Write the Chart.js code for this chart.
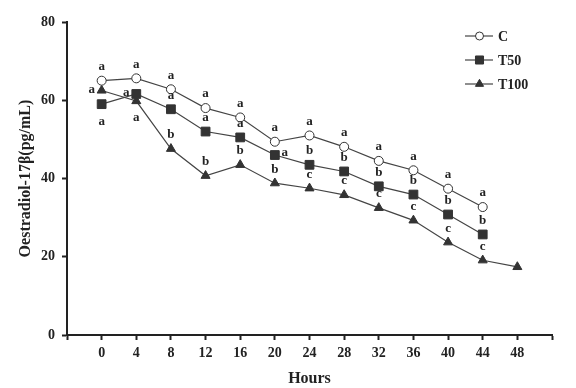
<!DOCTYPE html>
<html>
<head>
<meta charset="utf-8">
<script src="https://cdn.jsdelivr.net/npm/chart.js@4/dist/chart.umd.min.js"></script>
<style>
    html, body { margin: 0; padding: 0; background: #fff; }
    #wrap { width: 576px; height: 388px; position: relative; }
</style>
</head>
<body>
<div id="wrap"><canvas id="chart-oestradiol"></canvas></div>
<script>
const hours = [0, 4, 8, 12, 16, 20, 24, 28, 32, 36, 40, 44, 48];
const yTicks = [0, 20, 40, 60, 80];

const cValues = [65.0, 65.6, 62.8, 58.0, 55.6, 49.4, 51.0, 48.1, 44.5, 42.1, 37.4, 32.7];
const t50Values = [59.0, 61.6, 57.7, 52.0, 50.5, 46.0, 43.5, 41.8, 38.0, 35.9, 30.8, 25.7];
const t100Values = [62.5, 59.8, 47.6, 40.7, 43.5, 38.8, 37.5, 35.8, 32.5, 29.3, 23.7, 19.1, 17.4];

const cLetters = ["a", "a", "a", "a", "a", "a", "a", "a", "a", "a", "a", "a"];
const t50Letters = ["a", "a", "a", "a", "a", "a", "b", "b", "b", "b", "b", "b"];
const t100Letters = ["a", "a", "b", "b", "b", "b", "c", "c", "c", "c", "c", "c", ""];

// where each letter sits relative to its point
const cPlace = cLetters.map(() => "above");
const t50Place = ["below", "left", "above", "above", "above", "right", "above", "above", "above", "above", "above", "above"];
const t100Place = ["left", "below", "above", "above", "above", "above", "above", "above", "above", "above", "above", "above", "above"];

const serif = "'Liberation Serif', 'Times New Roman', serif";
const ink = "#222";
const lineColor = "#444";

const toPoints = (values) => values.map((v, i) => ({ x: hours[i], y: v }));

const letterPlugin = {
    id: "letters",
    afterDatasetsDraw(chart) {
        const ctx = chart.ctx;
        ctx.save();
        ctx.font = "bold 13px " + serif;
        ctx.fillStyle = ink;
        ctx.textAlign = "center";
        ctx.textBaseline = "middle";
        chart.data.datasets.forEach((ds, di) => {
            const meta = chart.getDatasetMeta(di);
            meta.data.forEach((pt, i) => {
                const letter = ds.letters[i];
                if (!letter) return;
                let x = pt.x, y = pt.y;
                const place = ds.places[i];
                if (place === "above") y -= 14;
                else if (place === "below") y += 17;
                else if (place === "left") { x -= 10; y -= 1; }
                else if (place === "right") { x += 10; y -= 2; }
                ctx.fillText(letter, x, y);
            });
        });
        ctx.restore();
    },
};

const legendPlugin = {
    id: "sideLegend",
    afterDraw(chart) {
        const ctx = chart.ctx;
        ctx.save();
        chart.data.datasets.forEach((ds, i) => {
            const y = 36 + i * 24;
            ctx.strokeStyle = lineColor;
            ctx.lineWidth = 1.2;
            ctx.beginPath();
            ctx.moveTo(465, y);
            ctx.lineTo(493, y);
            ctx.stroke();
            ctx.fillStyle = ds.pointBackgroundColor;
            ctx.strokeStyle = ds.pointBorderColor;
            ctx.lineWidth = 1;
            Chart.helpers.drawPoint(ctx, {
                pointStyle: ds.pointStyle,
                radius: ds.pointRadius - 0.5,
                borderWidth: 1,
            }, 479.5, y);
            ctx.font = "bold 14px " + serif;
            ctx.fillStyle = ink;
            ctx.textAlign = "left";
            ctx.textBaseline = "middle";
            ctx.fillText(ds.label, 498, y + 1);
        });
        ctx.restore();
    },
};

const makeSet = (label, values, style, radius, fill, letters, places) => ({
    label: label,
    data: toPoints(values),
    borderColor: lineColor,
    borderWidth: 1.2,
    pointStyle: style,
    pointRadius: radius,
    pointHoverRadius: radius,
    pointBackgroundColor: fill,
    pointBorderColor: "#333",
    pointBorderWidth: 1,
    tension: 0,
    letters: letters,
    places: places,
});

const chart = new Chart(document.getElementById("chart-oestradiol"), {
    type: "line",
    data: {
        datasets: [
            makeSet("C", cValues, "circle", 4.5, "#fff", cLetters, cPlace),
            makeSet("T50", t50Values, "rect", 6.2, "#333", t50Letters, t50Place),
            makeSet("T100", t100Values, "triangle", 5.2, "#333", t100Letters, t100Place),
        ],
    },
    options: {
        responsive: true,
        maintainAspectRatio: false,
        animation: false,
        layout: {
            padding: { top: 22, right: 24, left: 0, bottom: 0 },
        },
        plugins: {
            legend: { display: false },
            tooltip: { enabled: false },
        },
        scales: {
            x: {
                type: "linear",
                min: -4,
                max: 52,
                afterFit: (scale) => { scale.height = 53; },
                afterBuildTicks: (scale) => {
                    const t = [{ value: -4 }];
                    hours.forEach((h) => t.push({ value: h }));
                    t.push({ value: 52 });
                    scale.ticks = t;
                },
                ticks: {
                    autoSkip: false,
                    maxRotation: 0,
                    padding: 5,
                    color: ink,
                    font: { family: serif, size: 14, weight: "bold" },
                    callback: (v) => (hours.includes(v) ? String(v) : ""),
                },
                grid: {
                    drawOnChartArea: false,
                    drawTicks: true,
                    tickLength: 5,
                    tickWidth: 2,
                    color: ink,
                },
                border: { display: true, color: ink, width: 2 },
                title: {
                    display: true,
                    text: "Hours",
                    color: ink,
                    font: { family: serif, size: 16, weight: "bold" },
                    padding: { top: 8, bottom: 0 },
                },
            },
            y: {
                min: 0,
                max: 80,
                afterFit: (scale) => { scale.width = 67; },
                afterBuildTicks: (scale) => {
                    scale.ticks = yTicks.map((v) => ({ value: v }));
                },
                ticks: {
                    padding: 7,
                    color: ink,
                    font: { family: serif, size: 14, weight: "bold" },
                },
                grid: {
                    drawOnChartArea: false,
                    drawTicks: true,
                    tickLength: 5,
                    tickWidth: 2,
                    color: ink,
                },
                border: { display: true, color: ink, width: 2 },
                title: {
                    display: true,
                    text: "Oestradiol-17β(pg/mL)",
                    color: ink,
                    font: { family: serif, size: 16, weight: "bold" },
                    padding: { top: 16, bottom: 0 },
                },
            },
        },
    },
    plugins: [letterPlugin, legendPlugin],
});
</script>
</body>
</html>
